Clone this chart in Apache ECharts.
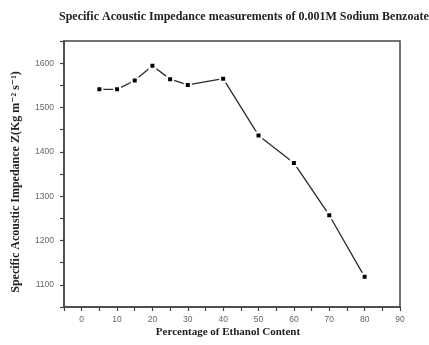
<!DOCTYPE html>
<html>
<head>
<meta charset="utf-8">
<script src="https://cdn.jsdelivr.net/npm/echarts@6/dist/echarts.min.js"></script>
<style>html,body{margin:0;padding:0;background:#fff}#c{width:429px;height:345px}</style>
</head>
<body>
<div id="c"></div>
<script>
const ethanolPercent = [5, 10, 15, 20, 25, 30, 40, 50, 60, 70, 80];
const impedance = [1541, 1541, 1561, 1594, 1564, 1551, 1565, 1437, 1375, 1257, 1118];
const xTickLabels = [0, 10, 20, 30, 40, 50, 60, 70, 80, 90];
const yTickLabels = [1100, 1200, 1300, 1400, 1500, 1600];
const titleText = 'Specific Acoustic Impedance measurements of 0.001M Sodium Benzoate';
const xName = 'Percentage of Ethanol Content';
const yName = 'Specific Acoustic Impedance Z(Kg m\u207B\u00B2 s\u207B\u00B9)';

const chart = echarts.init(document.getElementById('c'), null, {renderer: 'canvas'});
const serif = '"Liberation Serif", "DejaVu Serif", serif';
const tickFont = {color: '#666', fontFamily: '"Liberation Sans", Arial, sans-serif', fontSize: 8.5};
chart.setOption({
  animation: false,
  backgroundColor: '#fff',
  grid: {left: 64, right: 29, top: 41, bottom: 38, show: true, borderColor: '#444', borderWidth: 1.5},
  xAxis: {
    type: 'value', min: -5, max: 90, interval: 5,
    axisLine: {show: true, onZero: false, lineStyle: {color: '#444', width: 1.5}},
    axisTick: {show: true, inside: false, length: 4, lineStyle: {color: '#444', width: 1.2}},
    splitLine: {show: false},
    axisLabel: Object.assign({margin: 8, formatter: v => xTickLabels.includes(v) ? String(v) : ''}, tickFont)
  },
  yAxis: {
    type: 'value', min: 1050, max: 1650, interval: 50,
    axisLine: {show: true, onZero: false, lineStyle: {color: '#444', width: 1.5}},
    axisTick: {show: true, inside: false, length: 4, lineStyle: {color: '#444', width: 1.2}},
    splitLine: {show: false},
    axisLabel: Object.assign({margin: 10, formatter: v => yTickLabels.includes(v) ? String(v) : ''}, tickFont)
  },
  series: [{
    type: 'line',
    data: ethanolPercent.map((x, i) => [x, impedance[i]]),
    symbol: 'rect', symbolSize: 6,
    lineStyle: {color: '#2a2a2a', width: 1.3},
    itemStyle: {color: '#000', borderColor: '#fff', borderWidth: 2},
    z: 3
  }],
  graphic: [
    {type: 'text', left: 59, top: 11, style: {text: titleText, font: 'bold 12px ' + serif, fill: '#222'}},
    {type: 'text', x: 228, y: 332, style: {text: xName, font: 'bold 11px ' + serif, fill: '#222', align: 'center', verticalAlign: 'middle'}},
    {type: 'text', x: 16, y: 182, rotation: Math.PI / 2, style: {text: yName, font: 'bold 12px ' + serif, fill: '#222', align: 'center', verticalAlign: 'middle'}}
  ]
});
</script>
</body>
</html>
